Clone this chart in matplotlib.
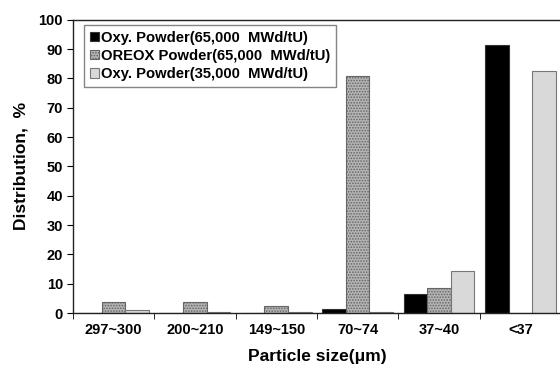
import numpy as np
import matplotlib.pyplot as plt
plt.switch_backend("agg")

plt.rcParams['font.family'] = ['Liberation Sans', 'DejaVu Sans']
plt.rcParams['font.weight'] = 'bold'
plt.rcParams['hatch.color'] = '#555555'
plt.rcParams['hatch.linewidth'] = 0.8

categories = ["297~300", "200~210", "149~150", "70~74", "37~40", "<37"]
oxy65 = [0, 0, 0, 1.3, 6.6, 91.5]
oreox65 = [3.6, 3.6, 2.5, 81.0, 8.4, 0]
oxy35 = [1.0, 0.3, 0.2, 0.3, 14.2, 82.7]
series_names = ["Oxy. Powder(65,000  MWd/tU)",
                "OREOX Powder(65,000  MWd/tU)",
                "Oxy. Powder(35,000  MWd/tU)"]

fig = plt.figure(figsize=(5.6, 3.67), dpi=100)
ax = fig.add_axes([0.13, 0.147, 0.872, 0.799])

x = np.arange(len(categories))
w = 0.29
ax.bar(x - w, oxy65, w, color="black", edgecolor="#333333", linewidth=0.8,
       label=series_names[0])
ax.bar(x, oreox65, w, color="#b5b5b5", edgecolor="#666666", linewidth=0.8,
       hatch="......", label=series_names[1])
ax.bar(x + w, oxy35, w, color="#d9d9d9", edgecolor="#777777", linewidth=0.8,
       label=series_names[2])

ax.set_xlim(-0.5, len(categories) - 0.5)
ax.set_ylim(0, 100)
ax.set_yticks(np.arange(0, 101, 10))
ax.set_xticks(x)
ax.set_xticklabels(categories)
ax.set_xticks(np.arange(-0.5, len(categories), 1), minor=True)
ax.tick_params(axis="x", which="major", length=0, labelsize=10.5, pad=7)
ax.tick_params(axis="x", which="minor", length=4, direction="out")
ax.tick_params(axis="y", length=4, direction="out", labelsize=10.5, pad=3)
for s in ax.spines.values():
    s.set_color("#222222")
    s.set_linewidth(1.0)

ax.set_ylabel("Distribution,  %", fontsize=12.5, fontweight="bold", labelpad=7)
ax.set_xlabel("Particle size(\u03bcm)", fontsize=12.5, fontweight="bold", labelpad=9)

leg = ax.legend(loc="upper left", bbox_to_anchor=(0.012, 1.0), fontsize=10.6,
                frameon=True, fancybox=False, handlelength=0.6, handleheight=0.6,
                handletextpad=0.15, labelspacing=0.28, borderpad=0.4,
                borderaxespad=0.35)
leg.get_frame().set_edgecolor("#666666")
leg.get_frame().set_linewidth(1.0)

plt.savefig("out.png", dpi=100)
plt.close(fig)
